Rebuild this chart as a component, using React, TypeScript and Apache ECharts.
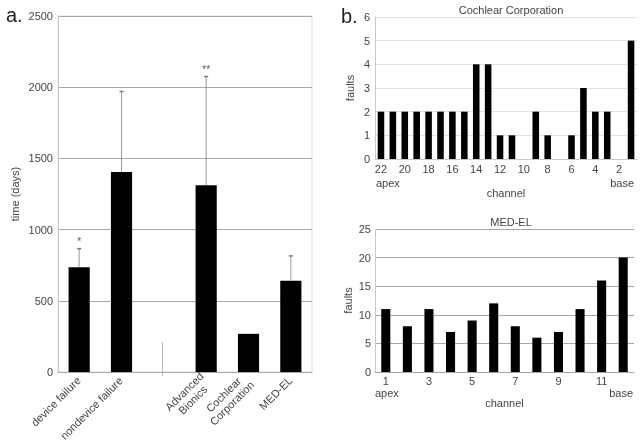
import React, { useEffect, useRef } from "react";
import * as echarts from "echarts";

// Panel a: time to failure
const groupCategories = ["device failure", "nondevice failure", "", "Advanced\nBionics", "Cochlear\nCorporation", "MED-EL"];
const groupMeans: (number | null)[] = [735, 1405, null, 1312, 268, 640];
const groupErrTop: (number | null)[] = [866, 1970, null, 2075, null, 815];
const groupMarks = ["*", "", "", "**", "", ""];
const timeTicks = [0, 500, 1000, 1500, 2000, 2500];

// Panel b top: Cochlear Corporation faults per channel
const cochlearChannels = ["22", "21", "20", "19", "18", "17", "16", "15", "14", "13", "12", "11", "10", "9", "8", "7", "6", "5", "4", "3", "2", "1"];
const cochlearFaults = [2, 2, 2, 2, 2, 2, 2, 2, 4, 4, 1, 1, 0, 2, 1, 0, 1, 3, 2, 2, 0, 5];

// Panel b bottom: MED-EL faults per channel
const medelChannels = ["1", "2", "3", "4", "5", "6", "7", "8", "9", "10", "11", "12"];
const medelFaults = [11, 8, 11, 7, 9, 12, 8, 6, 7, 11, 16, 20];

const FONT = "Liberation Sans, Arial, sans-serif";
const TXT = "#444";

function measure(text: string, size: number): number {
  const c = document.createElement("canvas").getContext("2d");
  if (!c) return text.length * size * 0.55;
  c.font = `${size}px ${FONT}`;
  return c.measureText(text).width;
}

export default function App() {
  const ref = useRef<HTMLDivElement>(null);
  useEffect(() => {
    if (!ref.current) return;
    const chart = echarts.init(ref.current, undefined, { renderer: "svg" });
    const errData = groupMeans
      .map((m, i) => (m != null && groupErrTop[i] != null ? [i, m, groupErrTop[i] as number] : null))
      .filter((d) => d !== null);

    // centred multi-line category labels
    const rich: any = {};
    groupCategories.forEach((c, i) => {
      const w = Math.max(...c.split("\n").map((l) => measure(l, 11)));
      rich["c" + i] = { width: Math.ceil(w) + 1, align: "center", fontSize: 11, color: TXT, fontFamily: FONT, lineHeight: 12 };
    });
    const catFormatter = (v: string, idx: number) =>
      v.split("\n").map((l) => `{c${idx}|${l}}`).join("\n");

    const option: any = {
      animation: false,
      textStyle: { fontFamily: FONT },
      title: [
        { text: "Cochlear Corporation", left: 506, top: -1, textAlign: "center", textStyle: { fontSize: 11, fontWeight: "normal", color: TXT, fontFamily: FONT } },
        { text: "MED-EL", left: 506, top: 211, textAlign: "center", textStyle: { fontSize: 11, fontWeight: "normal", color: TXT, fontFamily: FONT } },
      ],
      grid: [
        { left: 58, top: 16, width: 254, height: 356, show: true, borderColor: "#dcdcdc", borderWidth: 1 },
        { left: 375, top: 17, width: 262, height: 142 },
        { left: 375, top: 229, width: 259, height: 143 },
      ],
      xAxis: [
        {
          gridIndex: 0, type: "category", data: groupCategories,
          axisTick: { show: false },
          axisLine: { lineStyle: { color: "#a8a8a8" } },
          axisLabel: { rotate: 45, fontSize: 11, color: TXT, margin: 6, interval: 0, fontFamily: FONT, lineHeight: 12, formatter: catFormatter, rich },
        },
        {
          gridIndex: 1, type: "category", data: cochlearChannels,
          axisTick: { show: false },
          axisLine: { lineStyle: { color: "#c8c8c8" } },
          axisLabel: { interval: 1, fontSize: 11, color: TXT, margin: 4, fontFamily: FONT },
          name: "channel", nameLocation: "middle", nameGap: 28,
          nameTextStyle: { fontSize: 11, color: TXT, fontFamily: FONT },
        },
        {
          gridIndex: 2, type: "category", data: medelChannels,
          axisTick: { show: false },
          axisLine: { lineStyle: { color: "#a8a8a8" } },
          axisLabel: { interval: 1, fontSize: 11, color: TXT, margin: 3, fontFamily: FONT },
          name: "channel", nameLocation: "middle", nameGap: 25,
          nameTextStyle: { fontSize: 11, color: TXT, fontFamily: FONT },
        },
      ],
      yAxis: [
        {
          gridIndex: 0, type: "value", min: timeTicks[0], max: timeTicks[timeTicks.length - 1], interval: 500,
          axisLine: { show: true, lineStyle: { color: "#c8c8c8" } },
          axisTick: { show: false },
          splitLine: { lineStyle: { color: "#a8a8a8" } },
          axisLabel: { fontSize: 11, color: TXT, margin: 5, fontFamily: FONT, formatter: (v: number) => String(v) },
          name: "time (days)", nameLocation: "middle", nameGap: 38,
          nameTextStyle: { fontSize: 11, color: TXT, fontFamily: FONT },
        },
        {
          gridIndex: 1, type: "value", min: 0, max: 6, interval: 1,
          axisLine: { show: true, lineStyle: { color: "#c8c8c8" } },
          axisTick: { show: false },
          splitLine: { lineStyle: { color: "#e2e2e2" } },
          axisLabel: { fontSize: 11, color: TXT, margin: 5, fontFamily: FONT },
          name: "faults", nameLocation: "middle", nameGap: 20,
          nameTextStyle: { fontSize: 11, color: TXT, fontFamily: FONT },
        },
        {
          gridIndex: 2, type: "value", min: 0, max: 25, interval: 5,
          axisLine: { show: true, lineStyle: { color: "#c8c8c8" } },
          axisTick: { show: false },
          splitLine: { lineStyle: { color: "#a8a8a8" } },
          axisLabel: { fontSize: 11, color: TXT, margin: 4, fontFamily: FONT },
          name: "faults", nameLocation: "middle", nameGap: 22,
          nameTextStyle: { fontSize: 11, color: TXT, fontFamily: FONT },
        },
      ],
      series: [
        {
          type: "bar", xAxisIndex: 0, yAxisIndex: 0, data: groupMeans.map((v) => (v == null ? "-" : v)),
          barWidth: "50%", itemStyle: { color: "#000" },
        },
        {
          type: "custom", xAxisIndex: 0, yAxisIndex: 0, data: errData, z: 5,
          renderItem: (params: any, api: any) => {
            const i = api.value(0);
            const base = api.coord([i, api.value(1)]);
            const top = api.coord([i, api.value(2)]);
            const children: any[] = [
              { type: "line", shape: { x1: base[0], y1: base[1], x2: top[0], y2: top[1] }, style: { stroke: "#9a9a9a", lineWidth: 1 } },
              { type: "line", shape: { x1: top[0] - 2, y1: top[1], x2: top[0] + 2, y2: top[1] }, style: { stroke: "#777", lineWidth: 1.5 } },
            ];
            const mark = groupMarks[i];
            if (mark) {
              children.push({
                type: "text", x: top[0], y: top[1] - 2,
                style: { text: mark, fill: "#555", fontSize: 10, fontFamily: FONT, align: "center", verticalAlign: "bottom" },
              });
            }
            return { type: "group", children };
          },
        },
        {
          type: "bar", xAxisIndex: 1, yAxisIndex: 1, data: cochlearFaults,
          barWidth: "55%", itemStyle: { color: "#000" },
        },
        {
          type: "bar", xAxisIndex: 2, yAxisIndex: 2, data: medelFaults,
          barWidth: "42%", itemStyle: { color: "#000" },
        },
      ],
      graphic: [
        { type: "text", left: 6, top: 5, style: { text: "a.", fontSize: 20, fill: "#222", fontFamily: FONT } },
        { type: "text", left: 341, top: 6, style: { text: "b.", fontSize: 20, fill: "#222", fontFamily: FONT } },
        { type: "line", shape: { x1: 162.5, y1: 342, x2: 162.5, y2: 376 }, style: { stroke: "#bbb", lineWidth: 1 } },
        { type: "text", x: 376, y: 183, style: { text: "apex", fontSize: 11, fill: TXT, fontFamily: FONT, align: "left", verticalAlign: "middle" } },
        { type: "text", x: 634, y: 183, style: { text: "base", fontSize: 11, fill: TXT, fontFamily: FONT, align: "right", verticalAlign: "middle" } },
        { type: "text", x: 375, y: 393, style: { text: "apex", fontSize: 11, fill: TXT, fontFamily: FONT, align: "left", verticalAlign: "middle" } },
        { type: "text", x: 633, y: 393, style: { text: "base", fontSize: 11, fill: TXT, fontFamily: FONT, align: "right", verticalAlign: "middle" } },
      ],
    };
    chart.setOption(option);
    return () => chart.dispose();
  }, []);
  return <div ref={ref} style={{ position: "fixed", left: 0, top: 0, width: 643, height: 447 }} />;
}
